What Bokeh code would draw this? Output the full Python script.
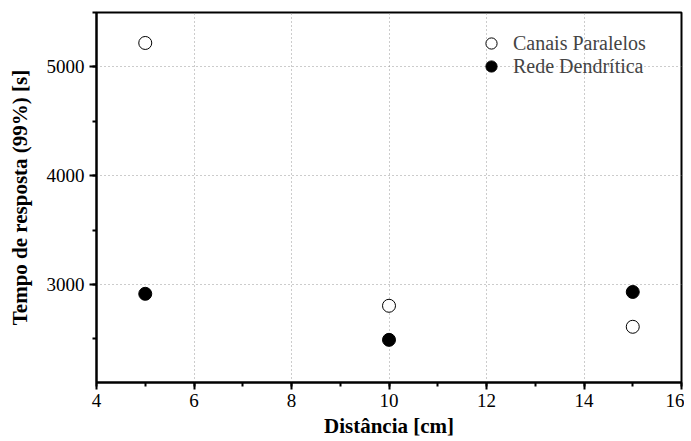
from bokeh.plotting import figure
from bokeh.models import SingleIntervalTicker, Range1d, Legend, LegendItem
from bokeh.embed import file_html
from bokeh.resources import INLINE

distancia = [5, 10, 15]
canais_paralelos = [5220, 2805, 2612]
rede_dendritica = [2915, 2492, 2932]
series_labels = ["Canais Paralelos", "Rede Dendrítica"]

FONT = "Liberation Serif"

p = figure(width=684, height=440, output_backend="svg", toolbar_location=None,
           x_range=Range1d(4, 16), y_range=Range1d(2100, 5500),
           min_border_left=96, min_border_right=3, min_border_top=12, min_border_bottom=58)

r1 = p.scatter(distancia, canais_paralelos, size=13, marker="circle",
               fill_color="white", line_color="black", line_width=1)
r2 = p.scatter(distancia, rede_dendritica, size=13, marker="circle",
               fill_color="black", line_color="black", line_width=1)

p.xaxis.ticker = SingleIntervalTicker(interval=2, num_minor_ticks=2)
p.yaxis.ticker = SingleIntervalTicker(interval=1000, num_minor_ticks=2)

for ax in (p.xaxis[0], p.yaxis[0]):
    ax.axis_line_width = 2
    ax.major_tick_line_width = 2
    ax.minor_tick_line_width = 2
    ax.major_tick_out = 7
    ax.major_tick_in = 0
    ax.minor_tick_out = 4
    ax.minor_tick_in = 0
    ax.major_label_text_font = FONT
    ax.major_label_text_font_size = "19px"
    ax.major_label_text_color = "black"
    ax.axis_label_text_font = FONT
    ax.axis_label_text_font_size = "21px"
    ax.axis_label_text_font_style = "bold"
    ax.axis_label_text_color = "black"

p.xaxis.axis_label = "Distância [cm]"
p.yaxis.axis_label = "Tempo de resposta (99%) [s]"
p.xaxis.major_label_standoff = 4
p.yaxis.major_label_standoff = 5
p.xaxis.axis_label_standoff = 4
p.yaxis.axis_label_standoff = 12

p.xgrid.grid_line_color = "#999999"
p.ygrid.grid_line_color = "#999999"
p.xgrid.grid_line_dash = "1 3"
p.ygrid.grid_line_dash = "1 3"
p.xgrid.grid_line_width = 1
p.ygrid.grid_line_width = 1

p.outline_line_color = "black"
p.outline_line_width = 2
p.outline_line_alpha = 1


def make_legend(label, renderer, loc):
    lg = Legend(items=[LegendItem(label=label, renderers=[renderer])], location=loc)
    lg.label_text_font = FONT
    lg.label_text_font_size = "20px"
    lg.border_line_color = None
    lg.background_fill_alpha = 0
    lg.padding = 0
    lg.margin = 0
    lg.spacing = 0
    lg.glyph_width = 28
    lg.glyph_height = 28
    lg.label_height = 28
    lg.label_standoff = 8
    return lg


p.add_layout(make_legend(series_labels[0], r1, (381, 325)))
p.add_layout(make_legend(series_labels[1], r2, (381, 302)))

open("out.html", "w").write(file_html(p, INLINE))
